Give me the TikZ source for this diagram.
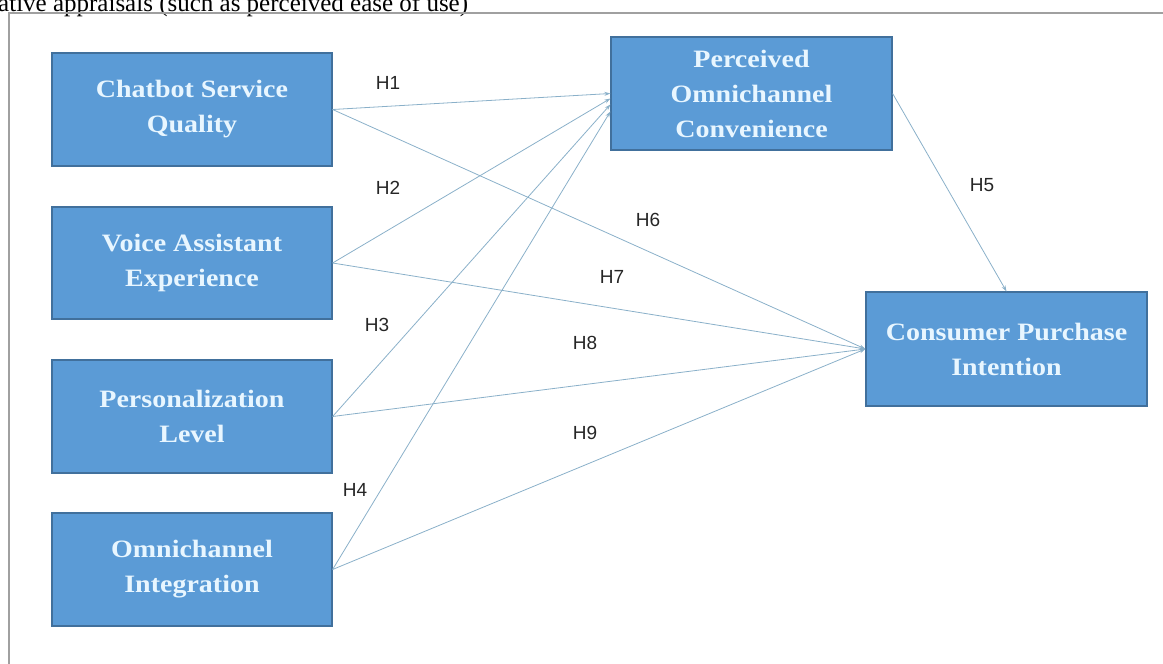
\documentclass[tikz,border=0pt]{standalone}
\usepackage{fontspec}
\setmainfont{Liberation Serif}
\newfontfamily\boxfont{Liberation Serif}[FakeStretch=1.12]
\newfontfamily\labfont{Liberation Sans}
\usetikzlibrary{arrows.meta,calc}
\definecolor{boxfill}{HTML}{5B9BD6}
\definecolor{boxedge}{HTML}{41709C}
\definecolor{boxtext}{HTML}{E8F6FF}
\definecolor{linkcol}{HTML}{8AB0C9}
\definecolor{framecol}{HTML}{A0A0A0}
\begin{document}
\begin{tikzpicture}[x=1pt,y=-1pt,
  construct/.style={draw=boxedge,line width=1.2pt,fill=boxfill,text=boxtext,
    font=\boxfont\fontsize{25}{35}\selectfont\bfseries,align=center,inner sep=0pt,
    minimum width=280pt,minimum height=113pt},
  link/.style={draw=linkcol,line width=0.8pt,-{Stealth[length=6pt,width=4pt]}},
  hyp/.style={font=\labfont\fontsize{19}{22}\selectfont,text=black!85,inner sep=0pt}]
\useasboundingbox (0,0) rectangle (1163,664);
\node[anchor=base west,inner sep=0pt,font=\fontsize{25}{28}\selectfont] (top) at (-2,11) {ative appraisals (such as perceived ease of use)};
\draw[framecol,line width=1.2pt] (9,664) -- (9,13) -- (1163,13);
% boxes
\node[construct] (cb) at (192,109.5) {Chatbot Service\\Quality};
\node[construct,minimum height=112pt] (va) at (192,263) {Voice Assistant\\Experience};
\node[construct] (pl) at (192,416.5) {Personalization\\Level};
\node[construct] (oi) at (192,569.5) {Omnichannel\\Integration};
\node[construct,minimum width=281pt] (pc) at (751.5,93.5) {Perceived\\Omnichannel\\Convenience};
\node[construct,minimum width=281pt,minimum height=114pt] (ci) at (1006.5,349) {Consumer Purchase\\Intention};
% target points
\coordinate (pc2) at ($(pc.west)+(0,5)$);
\coordinate (pc3) at ($(pc.west)+(0,11)$);
\coordinate (pc4) at ($(pc.west)+(0,18)$);
% connectors
\draw[link] (cb.east) -- (pc.west);
\draw[link] (va.east) -- (pc2);
\draw[link] (pl.east) -- (pc3);
\draw[link] (oi.east) -- (pc4);
\draw[link] (pc.east) -- (ci.north);
\draw[link] (cb.east) -- (ci.west);
\draw[link] (va.east) -- (ci.west);
\draw[link] (pl.east) -- (ci.west);
\draw[link] (oi.east) -- (ci.west);
% labels
\node[hyp] (h1) at (388,83) {H1};
\node[hyp] (h2) at (388,188) {H2};
\node[hyp] (h3) at (377,325) {H3};
\node[hyp] (h4) at (355,490) {H4};
\node[hyp] (h5) at (982,185) {H5};
\node[hyp] (h6) at (648,220) {H6};
\node[hyp] (h7) at (612,277) {H7};
\node[hyp] (h8) at (585,343) {H8};
\node[hyp] (h9) at (585,433) {H9};
\end{tikzpicture}
\end{document}
